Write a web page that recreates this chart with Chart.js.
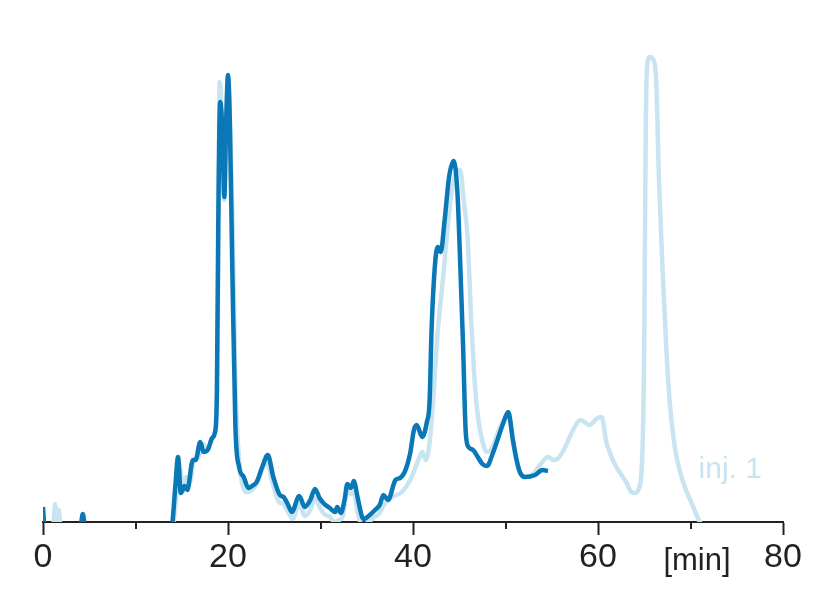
<!DOCTYPE html>
<html>
<head>
<meta charset="utf-8">
<script src="https://cdn.jsdelivr.net/npm/chart.js@4.4.1/dist/chart.umd.min.js"></script>
<style>
html,body{margin:0;padding:0;background:#fff;}
#wrap{width:827px;height:591px;position:relative;}
</style>
</head>
<body>
<div id="wrap"><canvas id="c" width="827" height="591"></canvas></div>
<script>
// x tick labels (minutes)
const tickLabels = [0, 20, 40, 60, 80];
const axisTitle = "[min]";
const seriesLabel = "inj. 1";

// Dark trace (current injection): retention time [min] and signal
const darkTime = [0,0.15,4.05,4.3,4.55,13.9,14.3,14.6,14.9,15.3,15.6,16.2,16.5,17.0,17.35,17.8,18.3,18.6,18.8,18.95,19.15,19.4,19.6,19.8,20.0,20.2,20.45,20.8,21.2,21.7,22.2,22.6,23.1,23.7,24.3,24.9,25.6,26.0,26.5,26.9,27.7,28.3,28.9,29.4,29.9,30.3,31.0,31.6,31.8,32.2,32.6,32.9,33.3,33.6,34.0,34.5,34.7,35.2,35.9,36.4,36.8,37.3,38.1,38.6,39.1,39.7,40.1,40.4,41.0,41.5,41.8,42.0,42.4,42.7,43.0,43.4,43.9,44.4,44.8,45.1,45.4,45.7,46.0,46.5,47.0,47.5,48.0,48.6,49.2,49.8,50.3,50.8,51.2,51.6,52.1,53.2,54.0,54.6];
const darkSignal = [15,-4,-4,8,-4,-4,35,65,29,36,32,62,62,80,70,72,84,90,130,300,420,390,325,400,447,400,262,95,55,45,34,36,40,55,67,45,27,25,17,10,26,15,22,33,24,19,14,10,15,9,22,38,34,41,25,5,3,6,12,17,27,22,42,44,50,69,92,97,85,100,122,190,260,275,270,300,345,361,330,260,180,90,75,72,65,58,56,68,84,100,110,82,62,49,45,47,52,51];

// Light trace ("inj. 1")
const lightTime = [0,1.1,1.3,1.5,1.7,1.9,14.0,14.4,14.8,15.1,15.5,15.9,16.3,16.8,17.3,17.8,18.3,18.7,18.9,19.1,19.4,19.6,19.8,20.0,20.25,20.5,20.8,21.1,21.5,22.0,22.6,23.2,23.8,24.2,24.8,25.5,26.0,26.5,27.0,27.7,28.3,28.9,29.4,29.9,30.4,31.0,31.5,32.0,32.4,32.9,33.3,33.6,34.0,34.5,35.2,35.8,36.3,37.0,37.8,38.8,39.7,40.5,41.0,41.4,41.8,42.2,42.6,43.3,43.8,44.2,44.7,45.1,45.5,45.9,46.3,46.6,46.9,47.4,48.0,48.6,49.2,49.7,50.2,50.6,51.0,51.5,52.3,53.0,53.8,54.6,55.2,55.6,56.3,57.2,58.1,59.1,59.8,60.4,60.9,61.3,61.8,62.4,63.1,63.6,64.0,64.4,64.8,65.0,65.15,65.3,65.6,66.0,66.3,66.6,67.0,67.4,67.8,68.3,68.9,69.6,70.3,71.0,71.4];
const lightSignal = [-4,-4,18,-4,12,-4,-4,25,55,30,45,40,62,65,78,72,85,95,200,440,385,322,395,440,390,300,140,75,40,30,32,40,55,60,40,20,18,10,3,18,6,12,24,15,8,5,0,2,5,32,28,30,10,-3,0,5,8,19,25,30,42,60,70,62,80,125,182,249,300,332,350,352,320,285,200,150,115,85,70,75,90,100,108,95,70,50,45,48,58,65,62,63,72,90,102,97,103,105,80,69,58,49,39,30,29,33,70,180,380,455,465,462,440,340,249,170,115,75,49,30,15,0,-4];

const DARK = '#0a78b6';
const LIGHT = '#c9e4f1';
const FONT = '"Liberation Sans", Arial, Helvetica, sans-serif';

const toPts = (t, v) => t.map((x, i) => ({x: x, y: v[i]}));

const minorTicks = {
  id: 'minorTicks',
  afterDraw(chart) {
    const ctx = chart.ctx, xs = chart.scales.x, y0 = chart.chartArea.bottom;
    ctx.save();
    ctx.strokeStyle = '#222';
    ctx.lineWidth = 2;
    xs.ticks.forEach(t => {
      if (t.value % 20 !== 0) {
        const px = Math.round(xs.getPixelForValue(t.value));
        ctx.beginPath(); ctx.moveTo(px, y0); ctx.lineTo(px, y0 + 7); ctx.stroke();
      }
    });
    // axis title and series label
    ctx.textAlign = 'center';
    ctx.textBaseline = 'alphabetic';
    ctx.fillStyle = '#222';
    ctx.font = '31px ' + FONT;
    ctx.fillText(axisTitle, xs.getPixelForValue(70.7), 570);
    ctx.fillStyle = LIGHT;
    ctx.font = '30px ' + FONT;
    const ys = chart.scales.y;
    ctx.fillText(seriesLabel, xs.getPixelForValue(74.3), ys.getPixelForValue(44));
    ctx.restore();
  }
};

new Chart(document.getElementById('c'), {
  type: 'line',
  data: {
    datasets: [
      { label: 'current', order: 0, data: toPts(darkTime, darkSignal), borderColor: DARK, borderWidth: 4.5, pointRadius: 0, cubicInterpolationMode: 'monotone', fill: false, clip: 0 },
      { label: seriesLabel, order: 1, data: toPts(lightTime, lightSignal), borderColor: LIGHT, borderWidth: 4.5, pointRadius: 0, cubicInterpolationMode: 'monotone', fill: false, clip: 0 }
    ]
  },
  options: {
    responsive: false,
    animation: false,
    events: [],
    layout: { padding: { left: 43, right: 44, top: 42, bottom: 0 } },
    plugins: { legend: { display: false }, tooltip: { enabled: false } },
    scales: {
      x: {
        type: 'linear', min: 0, max: 80,
        afterFit: s => { s.height = 69; },
        border: { display: true, color: '#222', width: 2 },
        grid: {
          drawOnChartArea: false, drawTicks: true, tickLength: 13,
          tickColor: '#222',
          tickWidth: c => (c.tick && c.tick.value % 20 === 0 ? 2 : 0)
        },
        ticks: {
          stepSize: 10, autoSkip: false, maxRotation: 0, padding: 2,
          color: '#222', font: { family: FONT, size: 34 },
          callback: v => (tickLabels.includes(v) ? String(v) : '')
        }
      },
      y: { display: false, min: 0, max: 480 }
    }
  },
  plugins: [minorTicks]
});
</script>
</body>
</html>
